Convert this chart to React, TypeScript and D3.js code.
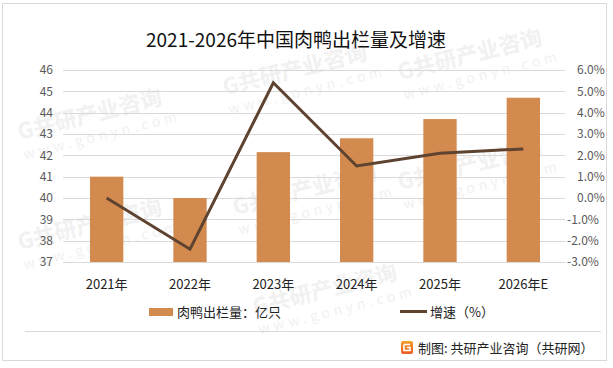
import React, { useEffect, useRef } from 'react';
import * as d3 from 'd3';

const years = ['2021年', '2022年', '2023年', '2024年', '2025年', '2026年E'];
const output = [41.0, 40.0, 42.15, 42.8, 43.7, 44.7];
const growth = [0.0, -2.4, 5.4, 1.5, 2.1, 2.3];
const leftTicks = [37, 38, 39, 40, 41, 42, 43, 44, 45, 46];
const rightTicks = [-3, -2, -1, 0, 1, 2, 3, 4, 5, 6];

const title = '2021-2026年中国肉鸭出栏量及增速';
const barLabel = '肉鸭出栏量：亿只';
const lineLabel = '增速（%）';
const source = '制图: 共研产业咨询（共研网）';

const watermarks: [number, number][] = [
  [20, 140], [225, 95], [400, 80], [20, 250], [235, 215], [400, 190], [255, 315],
];

const W = 613;
const H = 368;
const FONT = '"Noto Sans CJK SC", "Noto Sans", sans-serif';

const App = () => {
  const svgRef = useRef<SVGSVGElement | null>(null);

  useEffect(() => {
    document.body.style.margin = '0';
    const svg = d3.select(svgRef.current);
    svg.selectAll('*').remove();

    const margin = { left: 65, right: 48, top: 70, bottom: 106 };
    const plotW = W - margin.left - margin.right;
    const plotH = H - margin.top - margin.bottom;

    // background + frame
    svg.append('rect').attr('width', W).attr('height', H).attr('fill', '#fff');
    svg.append('rect')
      .attr('x', 2.5).attr('y', 3.5).attr('width', 604).attr('height', 357)
      .attr('fill', 'none').attr('stroke', '#d9d9d9');

    // faint watermarks
    const wm = svg.append('g').attr('fill', '#f1f1f1').attr('font-family', FONT);
    watermarks.forEach(([x, y]) => {
      const g = wm.append('g').attr('transform', `translate(${x},${y}) rotate(-14)`);
      g.append('text').attr('font-size', 22).attr('font-weight', 'bold').text('G共研产业咨询');
      g.append('text').attr('y', 20).attr('font-size', 14).attr('letter-spacing', 4).text('www.gonyn.com');
    });

    const x = d3.scaleBand().domain(years).range([margin.left, margin.left + plotW]).paddingInner(0.6).paddingOuter(0.3);
    const yL = d3.scaleLinear().domain([37, 46]).range([margin.top + plotH, margin.top]);
    const yR = d3.scaleLinear().domain([-3, 6]).range([margin.top + plotH, margin.top]);

    // gridlines
    svg.append('g')
      .selectAll('line')
      .data(leftTicks)
      .join('line')
      .attr('x1', margin.left - 2).attr('x2', margin.left + plotW)
      .attr('y1', d => Math.round(yL(d)) + 0.5).attr('y2', d => Math.round(yL(d)) + 0.5)
      .attr('stroke', '#d9d9d9');

    // bars
    svg.append('g')
      .selectAll('rect')
      .data(output)
      .join('rect')
      .attr('x', (d, i) => x(years[i])!)
      .attr('width', x.bandwidth())
      .attr('y', d => yL(d))
      .attr('height', d => yL(37) - yL(d))
      .attr('fill', '#D38A4E');

    // growth line
    const line = d3.line<number>()
      .x((d, i) => x(years[i])! + x.bandwidth() / 2)
      .y(d => yR(d));
    svg.append('path')
      .datum(growth)
      .attr('d', line)
      .attr('fill', 'none')
      .attr('stroke', '#5E4330')
      .attr('stroke-width', 3)
      .attr('stroke-linejoin', 'miter');

    // axis labels
    svg.append('g')
      .attr('font-family', FONT).attr('font-size', 12).attr('fill', '#595959')
      .selectAll('text')
      .data(leftTicks)
      .join('text')
      .attr('x', 53).attr('y', d => yL(d)).attr('dy', '0.35em')
      .attr('text-anchor', 'end')
      .text(d => d);

    svg.append('g')
      .attr('font-family', FONT).attr('font-size', 12).attr('fill', '#595959')
      .selectAll('text')
      .data(rightTicks)
      .join('text')
      .attr('x', d => (d < 0 ? 567 : 577)).attr('y', d => yR(d)).attr('dy', '0.35em')
      .text(d => `${d.toFixed(1)}%`);

    svg.append('g')
      .attr('font-family', FONT).attr('font-size', 13).attr('fill', '#222')
      .selectAll('text')
      .data(years)
      .join('text')
      .attr('x', d => x(d)! + x.bandwidth() / 2).attr('y', 284).attr('dy', '0.35em')
      .attr('text-anchor', 'middle')
      .text(d => d);

    // title
    svg.append('text')
      .attr('x', 296).attr('y', 47)
      .attr('text-anchor', 'middle')
      .attr('font-family', FONT).attr('font-size', 19).attr('fill', '#111')
      .text(title);

    // legend
    const lg = svg.append('g').attr('font-family', FONT).attr('font-size', 13).attr('fill', '#222');
    lg.append('rect').attr('x', 149).attr('y', 308).attr('width', 24).attr('height', 8).attr('fill', '#D38A4E');
    lg.append('text').attr('x', 177).attr('y', 312).attr('dy', '0.35em').text(barLabel);
    lg.append('line').attr('x1', 400).attr('x2', 427).attr('y1', 311.5).attr('y2', 311.5)
      .attr('stroke', '#5E4330').attr('stroke-width', 3);
    lg.append('text').attr('x', 430).attr('y', 312).attr('dy', '0.35em').text(lineLabel);

    // source footer
    svg.append('line').attr('x1', 25).attr('x2', 601).attr('y1', 331.5).attr('y2', 331.5).attr('stroke', '#d9d9d9');
    const defs = svg.append('defs');
    const grad = defs.append('linearGradient').attr('id', 'logo').attr('x1', 0).attr('y1', 0).attr('x2', 0).attr('y2', 1);
    grad.append('stop').attr('offset', '0%').attr('stop-color', '#F7A02A');
    grad.append('stop').attr('offset', '100%').attr('stop-color', '#EC5A24');
    svg.append('rect').attr('x', 401).attr('y', 341).attr('width', 12).attr('height', 13).attr('rx', 2).attr('fill', 'url(#logo)');
    svg.append('path')
      .attr('d', 'M404,344.5 h6 M404,344.5 v6 h6 v-3 h-3')
      .attr('fill', 'none').attr('stroke', '#fff').attr('stroke-width', 1.6);
    svg.append('text')
      .attr('x', 418).attr('y', 348).attr('dy', '0.35em')
      .attr('font-family', FONT).attr('font-size', 13).attr('fill', '#222')
      .text(source);
  }, []);

  return <svg ref={svgRef} width={W} height={H} style={{ display: 'block' }} />;
};

export default App;
